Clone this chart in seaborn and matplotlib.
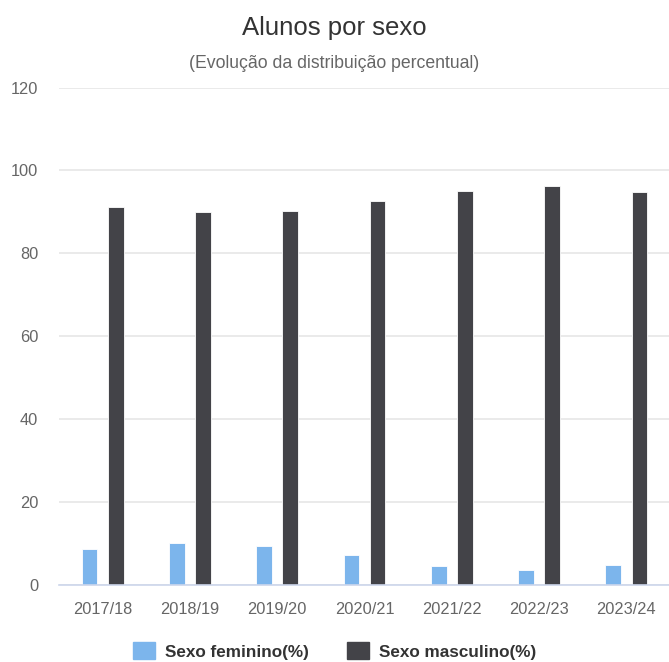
import numpy as np
import pandas as pd
import matplotlib.pyplot as plt
import seaborn as sns

# values
anos = ["2017/18", "2018/19", "2019/20", "2020/21", "2021/22", "2022/23", "2023/24"]
feminino = [8.6, 10.1, 9.4, 7.3, 4.5, 3.6, 4.8]
masculino = [91.2, 89.9, 90.1, 92.6, 95.1, 96.3, 94.8]
series = ["Sexo feminino(%)", "Sexo masculino(%)"]
cores = ["#7cb5ec", "#434348"]

df = pd.DataFrame({
    "ano": anos * 2,
    "valor": feminino + masculino,
    "serie": [series[0]] * len(anos) + [series[1]] * len(anos),
})

sns.set_theme(style="white")
plt.rcParams["font.family"] = ["Liberation Sans", "DejaVu Sans"]

fig = plt.figure(figsize=(6.69, 6.62), dpi=100)
ax = fig.add_axes([59 / 669, 1 - 585 / 662, 611 / 669, (585 - 87.5) / 662])

sns.barplot(
    data=df, x="ano", y="valor", hue="serie", order=anos, hue_order=series,
    palette=cores, width=0.6, gap=0.4, saturation=1, ax=ax, legend=False,
    edgecolor="white", linewidth=0.6,
)

ax.set_ylim(0, 120)
ax.set_yticks(np.arange(0, 121, 20))
ax.set_xlim(-0.5, len(anos) - 0.5)
ax.yaxis.grid(True, color="#e6e6e6", linewidth=1.2)
ax.set_axisbelow(True)
for s in ["top", "right", "left"]:
    ax.spines[s].set_visible(False)
ax.spines["bottom"].set_color("#ccd6eb")
ax.spines["bottom"].set_linewidth(1.2)
ax.set_xlabel("")
ax.set_ylabel("")

ax.tick_params(axis="y", length=0, labelsize=11.8, labelcolor="#666666", pad=15)
ax.tick_params(axis="x", which="major", length=0, labelsize=11.8, labelcolor="#666666", pad=12)
ax.set_xticks(np.arange(-0.5, len(anos) + 0.5, 1), minor=True)
ax.tick_params(axis="x", which="minor", length=9.5, width=1, color="#ccd6eb")

fig.text(0.5, 1 - 35 / 662, "Alunos por sexo", ha="center", va="baseline",
         fontsize=18.5, color="#333333")
fig.text(0.5, 1 - 68 / 662, "(Evolução da distribuição percentual)", ha="center",
         va="baseline", fontsize=12.7, color="#666666")

handles = [plt.Rectangle((0, 0), 1, 1, color=c) for c in cores]
fig.legend(handles, series, loc="center", bbox_to_anchor=(0.5, 1 - 651 / 662),
           ncol=2, frameon=False, handlelength=1.3, handleheight=1.1,
           handletextpad=0.6, columnspacing=2.2,
           prop={"weight": "bold", "size": 12.3})
for t in fig.legends[0].get_texts():
    t.set_color("#333333")

fig.savefig("out.png", dpi=100)
